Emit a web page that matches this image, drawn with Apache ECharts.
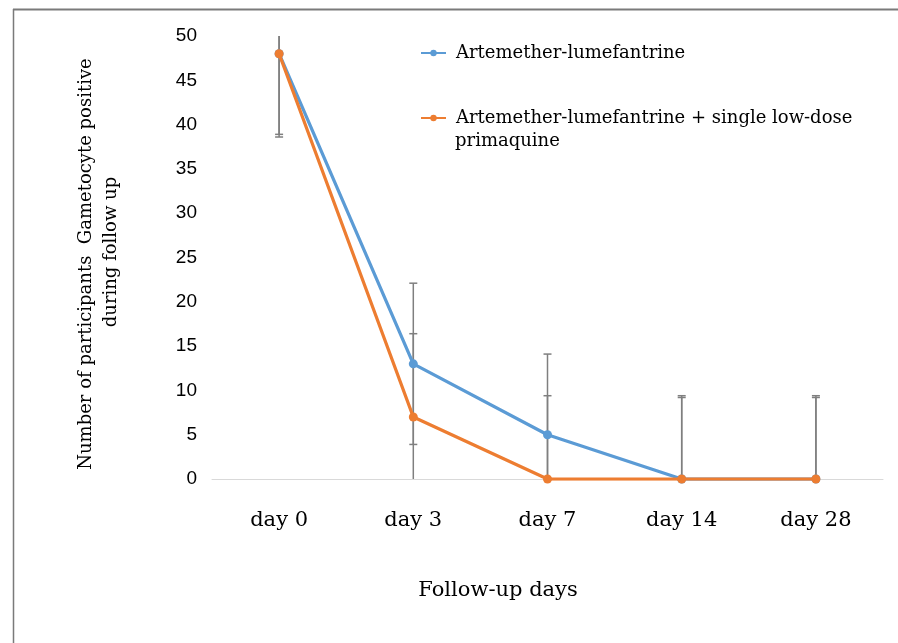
<!DOCTYPE html>
<html>
<head>
<meta charset="utf-8">
<script src="https://cdn.jsdelivr.net/npm/echarts@6/dist/echarts.min.js"></script>
<style>
html,body{margin:0;padding:0;background:#fff;}
#chart{width:898px;height:643px;}
</style>
</head>
<body>
<div id="chart"></div>
<script>
// ---- data ----
const categories = ['day 0', 'day 3', 'day 7', 'day 14', 'day 28'];
const seriesNames = ['Artemether-lumefantrine', 'Artemether-lumefantrine + single low-dose primaquine'];
const legendLines2 = ['Artemether-lumefantrine + single low-dose', 'primaquine'];
const valuesAL = [48, 13, 5, 0, 0];
const valuesALPQ = [48, 7, 0, 0, 0];
const errorsAL = [9.1, 9.1, 9.1, 9.2, 9.2];
const errorsALPQ = [9.4, 9.4, 9.4, 9.4, 9.4];
const yTicks = { min: 0, max: 50, interval: 5 };
const xTitle = 'Follow-up days';
const yTitleLine1 = 'Number of participants  Gametocyte positive';
const yTitleLine2 = 'during follow up';

const BLUE = '#5B9BD5';
const ORANGE = '#ED7D31';
const SERIF = '"DejaVu Serif", "Liberation Serif", serif';
const SANS = '"Liberation Sans", Arial, sans-serif';

function errSeries(vals, errs) {
  return {
    type: 'custom',
    z: 1,
    silent: true,
    clip: false,
    data: vals.map((v, i) => [i, v, errs[i]]),
    renderItem: function (params, api) {
      const i = api.value(0), v = api.value(1), e = api.value(2);
      const hi = v + e, lo = v - e;
      const hiC = Math.min(hi, yTicks.max), loC = Math.max(lo, yTicks.min);
      const pHi = api.coord([i, hiC]);
      const pLo = api.coord([i, loC]);
      const st = { stroke: '#7f7f7f', lineWidth: 1.5 };
      const children = [{
        type: 'line', shape: { x1: pHi[0], y1: pHi[1], x2: pLo[0], y2: pLo[1] }, style: st
      }];
      const cw = 4;
      if (hi <= yTicks.max) children.push({ type: 'line', shape: { x1: pHi[0] - cw, y1: pHi[1], x2: pHi[0] + cw, y2: pHi[1] }, style: st });
      if (lo >= yTicks.min) children.push({ type: 'line', shape: { x1: pLo[0] - cw, y1: pLo[1], x2: pLo[0] + cw, y2: pLo[1] }, style: st });
      return { type: 'group', children: children };
    }
  };
}

const chart = echarts.init(document.getElementById('chart'), null, { renderer: 'canvas' });
chart.setOption({
  backgroundColor: '#fff',
  animation: false,
  grid: { left: 212, right: 15, top: 36, bottom: 164, containLabel: false },
  legend: [
    {
      data: [seriesNames[0]],
      left: 420, top: 44, padding: 0, orient: 'vertical',
      itemWidth: 25, itemHeight: 8,
      textStyle: { fontFamily: SERIF, fontSize: 18, color: '#000', padding: [0, 0, 0, 5] }
    },
    {
      data: [seriesNames[1]],
      left: 420, top: 109, padding: 0, orient: 'vertical',
      itemWidth: 25, itemHeight: 8,
      formatter: function () { return legendLines2[0]; },
      textStyle: { fontFamily: SERIF, fontSize: 18, color: '#000', padding: [0, 0, 0, 5] }
    }
  ],
  xAxis: {
    type: 'category',
    data: categories,
    boundaryGap: true,
    axisLine: { lineStyle: { color: '#d9d9d9', width: 1 } },
    axisTick: { show: false },
    axisLabel: { fontFamily: SERIF, fontSize: 21, color: '#000', margin: 31 }
  },
  yAxis: {
    type: 'value',
    min: yTicks.min, max: yTicks.max, interval: yTicks.interval,
    axisLine: { show: false },
    axisTick: { show: false },
    splitLine: { show: false },
    axisLabel: { fontFamily: SANS, fontSize: 19, color: '#000', margin: 15 }
  },
  series: [
    errSeries(valuesAL, errorsAL),
    errSeries(valuesALPQ, errorsALPQ),
    {
      name: seriesNames[0], type: 'line', data: valuesAL, z: 3,
      symbol: 'circle', symbolSize: 9,
      itemStyle: { color: BLUE }, lineStyle: { color: BLUE, width: 3.25 }
    },
    {
      name: seriesNames[1], type: 'line', data: valuesALPQ, z: 4,
      symbol: 'circle', symbolSize: 9,
      itemStyle: { color: ORANGE }, lineStyle: { color: ORANGE, width: 3.25 }
    }
  ],
  graphic: [
    { type: 'line', shape: { x1: 13, y1: 9.5, x2: 898, y2: 9.5 }, style: { stroke: '#7a7a7a', lineWidth: 2 }, silent: true },
    { type: 'line', shape: { x1: 13.5, y1: 9, x2: 13.5, y2: 643 }, style: { stroke: '#7a7a7a', lineWidth: 1.5 }, silent: true },
    { type: 'text', x: 455, y: 141, style: { text: legendLines2[1], font: '18px ' + SERIF, fill: '#000', textAlign: 'left', textVerticalAlign: 'middle' } },
    { type: 'text', x: 498, y: 591, style: { text: xTitle, font: '21px ' + SERIF, fill: '#000', textAlign: 'center', textVerticalAlign: 'middle' } },
    { type: 'text', x: 86, y: 264, rotation: Math.PI / 2, style: { text: yTitleLine1, font: '18px ' + SERIF, fill: '#000', textAlign: 'center', textVerticalAlign: 'middle' } },
    { type: 'text', x: 111, y: 252, rotation: Math.PI / 2, style: { text: yTitleLine2, font: '18px ' + SERIF, fill: '#000', textAlign: 'center', textVerticalAlign: 'middle' } }
  ]
});
</script>
</body>
</html>
